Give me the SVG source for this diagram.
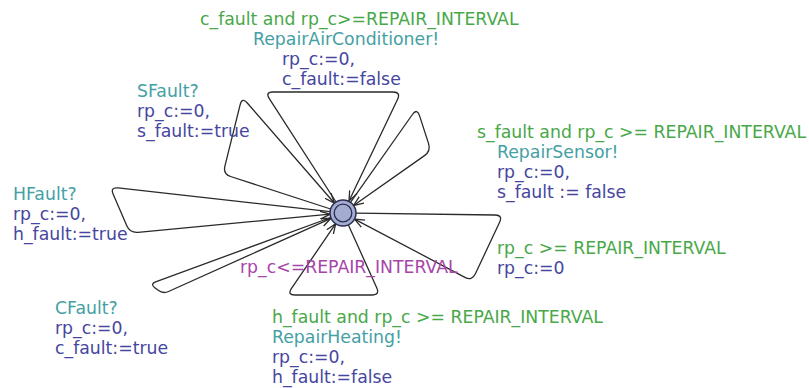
<svg xmlns="http://www.w3.org/2000/svg" width="809" height="388" viewBox="0 0 809 388">
<defs>
<marker id="arr" viewBox="0 0 10 10" refX="10" refY="5" markerWidth="10" markerHeight="10" markerUnits="userSpaceOnUse" orient="auto">
<path d="M0,1 L10,5 L0,9" fill="none" stroke="#2a2a2a" stroke-width="1.3"/>
</marker>
</defs>
<style>
text{font-family:"DejaVu Sans",sans-serif;font-size:17.3px}
.g{fill:#48a848}
.s{fill:#44a0a4}
.u{fill:#4646a0}
.i{fill:#a844a8}
.e{fill:none;stroke:#2a2a2a;stroke-width:1.3;marker-end:url(#arr)}
</style>
<rect width="809" height="388" fill="#ffffff"/>
<g id="connectors">
<path class="e" d="M336,202 L269.3,98.7 Q265,92 273,92 L393,92 Q401,92 397.6,99.2 L349,201"/>
<path class="e" d="M330.6,209 L230.6,176.5 Q223,174 224.9,166.2 L240.1,104.8 Q242,97 247.3,103 L334.5,203.2"/>
<path class="e" d="M350.5,202.4 L412.4,114.5 Q417,108 419.5,115.6 L428.5,143.4 Q431,151 424.5,155.6 L353.6,205.5"/>
<path class="e" d="M330.1,211.6 L118,187.9 Q110,187 113.2,194.3 L126.8,225.7 Q130,233 138,232.3 L330.1,214.2"/>
<path class="e" d="M330.8,217.5 L155.6,281.9 Q150,284 154.8,287.7 L158.2,290.3 Q163,294 168.5,291.5 L331.1,218.3"/>
<path class="e" d="M348.3,224.8 L376.7,287.7 Q380,295 372,295 L295,295 Q287,295 291.5,288.4 L335.7,223.7"/>
<path class="e" d="M356,213.2 L495,215 Q503,215 499.6,222.2 L475.4,273.8 Q472,281 464.9,277.3 L354.5,219.1"/>
</g>
<g id="labels">
<text class="g" x="200" y="25">c_fault and rp_c&gt;=REPAIR_INTERVAL</text>
<text class="s" x="253" y="45">RepairAirConditioner!</text>
<text class="u" x="282" y="65">rp_c:=0,</text>
<text class="u" x="282" y="85">c_fault:=false</text>
<text class="s" x="137" y="97">SFault?</text>
<text class="u" x="137" y="117">rp_c:=0,</text>
<text class="u" x="137" y="137">s_fault:=true</text>
<text class="s" x="13" y="200">HFault?</text>
<text class="u" x="13" y="220">rp_c:=0,</text>
<text class="u" x="13" y="240">h_fault:=true</text>
<text class="g" x="477" y="138">s_fault and rp_c &gt;= REPAIR_INTERVAL</text>
<text class="s" x="497" y="158">RepairSensor!</text>
<text class="u" x="497" y="178">rp_c:=0,</text>
<text class="u" x="497" y="198">s_fault := false</text>
<text class="g" x="497" y="254">rp_c &gt;= REPAIR_INTERVAL</text>
<text class="u" x="497" y="274">rp_c:=0</text>
<text class="s" x="55" y="314">CFault?</text>
<text class="u" x="55" y="334">rp_c:=0,</text>
<text class="u" x="55" y="354">c_fault:=true</text>
<text class="g" x="272" y="323">h_fault and rp_c &gt;= REPAIR_INTERVAL</text>
<text class="s" x="272" y="343">RepairHeating!</text>
<text class="u" x="272" y="363">rp_c:=0,</text>
<text class="u" x="272" y="383">h_fault:=false</text>
</g>
<g id="idle">
<circle cx="343" cy="213" r="13" fill="#a4acd2" stroke="#2b3050" stroke-width="1.5"/>
<circle cx="343" cy="213" r="8.8" fill="none" stroke="#2b3050" stroke-width="1.3"/>
<text class="i" x="240" y="273">rp_c&lt;=REPAIR_INTERVAL</text>
</g>
</svg>
